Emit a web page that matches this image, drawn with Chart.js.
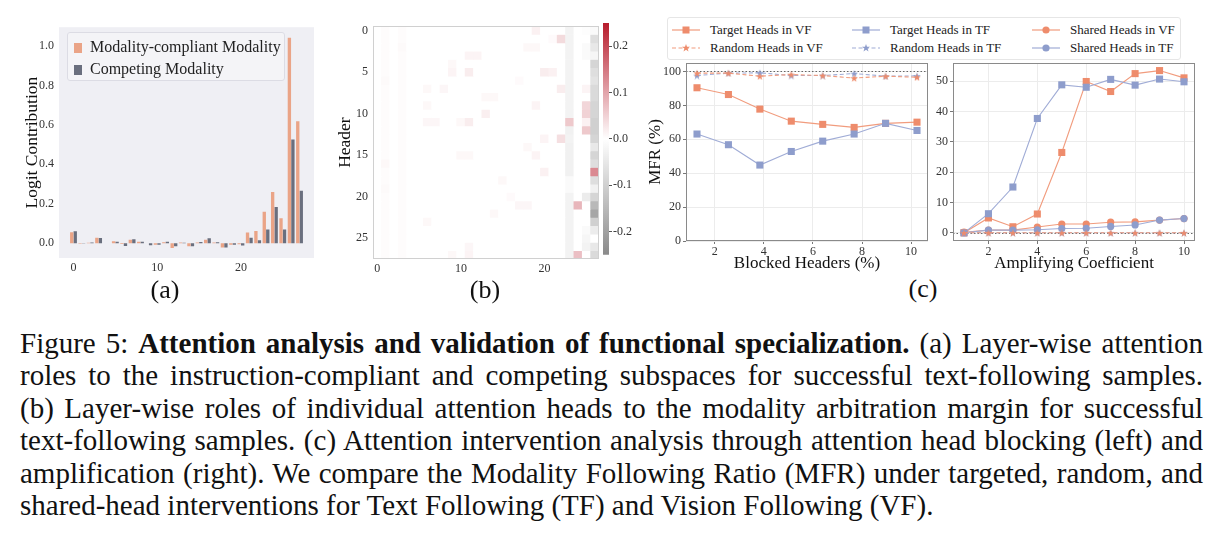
<!DOCTYPE html>
<html>
<head>
<meta charset="utf-8">
<script src="https://cdn.jsdelivr.net/npm/chart.js@4.4.0/dist/chart.umd.min.js"></script>
<style>
  body { margin: 0; width: 1225px; height: 536px; background: #fff; position: relative; overflow: hidden;
         font-family: 'Liberation Serif', 'Times New Roman', serif; color: #111; }
  canvas { position: absolute; }
  .lbl { position: absolute; transform: translate(-50%, -50%); white-space: nowrap; }
  .leg-a { position: absolute; left: 67px; top: 32px; width: 218px; height: 49px; box-sizing: border-box;
           border: 1px solid #dcdce4; border-radius: 3px; background: rgba(255,255,255,0.3); }
  .leg-a .it { position: absolute; left: 6px; font-size: 16px; line-height: 18px; color: #222; }
  .leg-a .sw { display: inline-block; width: 8px; height: 10px; margin-right: 8px; vertical-align: -1px; }
  .leg-c { position: absolute; left: 667px; top: 17px; width: 514px; height: 43px; box-sizing: border-box;
           border: 1px solid #e6e6e6; border-radius: 3px; background: #fff; }
  .leg-c .it { position: absolute; font-size: 13px; line-height: 16px; color: #222; white-space: nowrap; }
  .leg-c svg { position: absolute; }
  .cap { position: absolute; left: 20px; width: 1183px; font-size: 29px; line-height: 32px;
         text-align: justify; text-align-last: justify; }
  .cap.last { text-align-last: left; }
</style>
</head>
<body>

<canvas id="barChart" width="302" height="261" style="left:22px;top:15px"></canvas>
<div class="leg-a">
  <div class="it" style="top:5px"><span class="sw" style="background:#eaa487"></span>Modality-compliant Modality</div>
  <div class="it" style="top:27px"><span class="sw" style="background:#6a6f7e"></span>Competing Modality</div>
</div>
<div class="lbl" style="left:165px;top:290px;font-size:26px">(a)</div>

<canvas id="heatChart" width="264" height="263" style="left:335px;top:14px"></canvas>
<canvas id="cbarChart" width="40" height="250" style="left:603px;top:13px"></canvas>
<div class="lbl" style="left:485px;top:290px;font-size:26px">(b)</div>

<canvas id="blockChart" width="288" height="221" style="left:645px;top:53px"></canvas>
<canvas id="ampChart" width="272" height="221" style="left:928px;top:53px"></canvas>
<div class="leg-c" id="legC"></div>
<div class="lbl" style="left:923px;top:289px;font-size:26px">(c)</div>

<div class="cap" style="top:327px">Figure 5: <b>Attention analysis and validation of functional specialization.</b> (a) Layer-wise attention</div>
<div class="cap" style="top:359px">roles to the instruction-compliant and competing subspaces for successful text-following samples.</div>
<div class="cap" style="top:392px">(b) Layer-wise roles of individual attention heads to the modality arbitration margin for successful</div>
<div class="cap" style="top:424px">text-following samples. (c) Attention intervention analysis through attention head blocking (left) and</div>
<div class="cap" style="top:457px">amplification (right). We compare the Modality Following Ratio (MFR) under targeted, random, and</div>
<div class="cap last" style="top:489px">shared-head interventions for Text Following (TF) and Vision Following (VF).</div>

<script>
'use strict';

// ── Data: (a) layer-wise logit contribution ────────────────
const LAYERS     = [0,1,2,3,4,5,6,7,8,9,10,11,12,13,14,15,16,17,18,19,20,21,22,23,24,25,26,27];
const COMPLIANT  = [0.055,-0.003,0.002,0.028,0,0.010,-0.004,0.018,0.008,0.000,-0.008,0.005,-0.024,0.004,-0.016,0.003,0.018,0.003,-0.022,-0.008,-0.005,0.054,0.062,0.159,0.260,0.126,1.042,0.618];
const COMPETING  = [0.060,-0.002,0.003,0.027,0,0.007,-0.014,0.020,0.007,-0.010,-0.008,0.007,-0.016,0.002,-0.015,0.006,0.025,0.005,-0.022,-0.008,-0.012,0.028,0.015,0.070,0.184,0.069,0.526,0.266];
const BAR_XTICKS = [0,10,20];
const BAR_YTICKS = [0,0.2,0.4,0.6,0.8,1.0];

// ── Data: (b) per-head roles (rows = heads, cols = layers) ──
const HEAT_LAYERS = ['0','1','2','3','4','5','6','7','8','9','10','11','12','13','14','15','16','17','18','19','20','21','22','23','24','25','26'];
const HEAD_ROLES = [
  [0,.003,0,.003,0,0,0,0,0,0,0,0,0,0,0,0,0,0,0,.015,0,0,0,-.025,0,-.005,-.01],
  [0,.003,0,.003,0,0,0,0,0,0,0,0,0,0,0,0,0,0,0,0,0,.005,.04,-.025,0,0,-.07],
  [0,.003,0,.006,0,0,0,0,0,0,0,0,0,0,0,0,0,0,.008,.008,0,0,0,-.025,0,-.01,-.05],
  [0,.003,0,.003,0,0,0,0,0,0,0,.012,.012,0,0,0,0,0,0,0,0,0,0,-.025,0,-.01,-.02],
  [0,.003,0,.003,0,0,0,0,0,.008,0,0,0,0,0,0,0,0,0,0,0,0,0,-.025,0,0,-.09],
  [0,.003,0,.003,0,0,0,0,0,.012,0,.02,0,0,0,0,0,0,0,0,.02,.015,0,-.025,0,0,-.07],
  [0,.006,0,.003,0,0,0,0,0,0,0,0,0,0,0,0,0,.005,0,0,0,0,0,-.025,0,0,-.06],
  [0,.003,0,.003,0,0,.008,0,.01,0,0,0,0,0,0,0,0,0,0,0,0,0,.02,-.025,0,.012,-.08],
  [0,.003,0,.003,0,0,0,0,0,0,0,0,0,.008,.008,0,0,0,0,0,0,0,0,-.025,0,0,-.08],
  [0,.003,0,.003,0,0,.008,0,0,0,0,0,0,0,0,0,0,0,0,.012,0,0,0,-.025,0,.045,-.09],
  [0,.003,0,.003,0,0,0,0,0,0,0,0,0,.018,0,0,0,0,0,0,0,0,0,-.025,0,.05,-.09],
  [0,.003,0,.003,0,0,.01,.01,0,0,.008,.02,0,0,0,0,0,0,0,0,0,0,0,.06,0,.015,-.1],
  [0,.003,0,.003,0,0,0,0,0,0,0,0,0,0,0,0,0,0,0,0,0,0,0,-.03,0,.06,-.1],
  [0,.003,0,.003,0,0,0,0,0,0,0,0,0,0,0,0,0,0,0,0,.012,0,.035,-.025,0,0,-.09],
  [0,.003,0,.003,0,0,0,0,0,0,0,0,0,0,0,0,0,0,.008,0,0,0,0,-.03,0,0,-.05],
  [0,.003,0,.003,0,0,0,0,0,0,.008,.008,0,0,0,0,0,0,0,.012,0,0,0,-.03,0,0,-.09],
  [0,.008,0,.003,0,0,0,0,0,0,0,0,0,0,0,0,0,0,0,0,0,0,0,-.03,0,0,-.07],
  [0,.003,0,.003,0,0,0,0,0,0,0,0,0,0,0,0,0,0,0,0,.015,0,0,-.03,0,0,.13],
  [0,.003,0,.003,0,0,0,0,0,0,0,0,0,0,0,.008,0,0,0,0,0,0,0,-.01,0,0,-.07],
  [0,.006,0,.003,0,0,0,0,0,0,0,0,0,0,0,0,0,0,0,0,0,0,0,-.01,0,0,-.03],
  [0,.003,0,.003,0,0,0,0,0,0,0,0,0,0,0,0,.005,0,0,0,0,0,0,-.025,0,-.04,-.09],
  [0,.003,0,.003,0,0,0,0,0,0,0,0,0,0,0,0,0,.01,.01,0,0,0,0,-.025,.08,0,-.15],
  [0,.003,0,.003,0,0,0,0,0,0,0,0,0,0,.008,0,0,0,0,0,0,0,0,-.025,0,0,-.19],
  [0,.003,0,.003,0,0,.008,0,0,0,0,0,0,0,0,0,0,0,0,0,0,0,0,-.025,0,0,-.1],
  [0,.003,0,.003,0,0,0,0,0,0,0,0,0,0,0,0,0,0,0,0,0,0,0,-.025,0,-.01,-.04],
  [0,.003,0,.003,0,0,0,0,0,0,0,0,0,0,0,0,0,0,0,0,0,0,0,-.025,0,-.02,0],
  [0,.003,0,.003,0,0,0,0,0,0,0,.01,0,0,0,0,0,0,0,0,0,0,0,-.025,0,-.025,-.05],
  [0,.003,0,.003,0,0,0,0,0,.008,0,.012,0,0,0,0,0,0,0,0,0,0,0,-.025,.07,0,-.08]
];
const HEAT_XTICKS = [0,10,20];
const HEAT_YTICKS = [0,5,10,15,20,25];
const CBAR_RANGE  = [-0.25, 0.25];
const CBAR_TICKS  = [-0.2,-0.1,0,0.1,0.2];

// ── Data: (c) head blocking / amplification (MFR %) ───────
const BLOCKED       = [1.28,2.56,3.84,5.12,6.40,7.68,8.96,10.24];
const BLK_TARGET_VF = [90.4,86.4,77.8,70.7,68.8,67.0,69.4,70.1];
const BLK_TARGET_TF = [63.1,56.8,44.8,52.8,58.9,63.1,69.4,65.2];
const BLK_RANDOM_VF = [99.0,99.0,97.2,98.2,97.6,96.1,97.2,96.6];
const BLK_RANDOM_TF = [97.6,99.0,99.2,97.6,97.6,98.8,97.2,97.4];
const BLK_XTICKS    = [2,4,6,8,10];
const BLK_YTICKS    = [0,20,40,60,80,100];

const AMP_COEF      = [1,2,3,4,5,6,7,8,9,10];
const AMP_TARGET_VF = [0.0,4.9,2.0,6.2,26.5,49.9,46.6,52.5,53.5,51.1];
const AMP_TARGET_TF = [0.0,6.3,15.1,37.7,48.8,48.0,50.6,48.7,50.7,49.8];
const AMP_RANDOM_VF = [0,0,0,0,0,0,0,0,0,0];
const AMP_RANDOM_TF = [0,0,0,0,0,0,0,0,0,0];
const AMP_SHARED_VF = [0.2,0.9,0.9,1.9,2.9,2.9,3.5,3.6,4.2,4.7];
const AMP_SHARED_TF = [0.0,0.9,0.9,1.0,1.4,1.5,2.1,2.6,4.2,4.7];
const AMP_XTICKS    = [2,4,6,8,10];
const AMP_YTICKS    = [0,10,20,30,40,50];

// ── Styling ───────────────────────────────────────────────
const SERIF = "'Liberation Serif', 'Times New Roman', serif";
const BAR_ORANGE = '#eaa487', BAR_GRAY = '#6a6f7e';
const ORANGE = '#ee8c6c', BLUE = '#8e9dcc';
const ORANGE_LINE = '#f19c7e', BLUE_LINE = '#a0acd6';
const TICK_FONT = { family: SERIF, size: 12 };
const TICK_COLOR = '#333';

Chart.defaults.font.family = SERIF;
Chart.defaults.animation = false;
Chart.defaults.plugins.legend.display = false;
Chart.defaults.plugins.tooltip.enabled = false;

const fixTicks = list => axis => { axis.ticks = list.map(v => ({ value: v })); };
const fixWidth = w => axis => { axis.width = w; };
const fixHeight = h => axis => { axis.height = h; };

const plotBg = color => ({
    id: 'plotBg',
    beforeDraw(chart) {
        const { ctx, chartArea: a } = chart;
        ctx.save(); ctx.fillStyle = color;
        ctx.fillRect(a.left, a.top, a.right - a.left, a.bottom - a.top);
        ctx.restore();
    }
});

const frame = color => ({
    id: 'frame',
    afterDraw(chart) {
        const { ctx, chartArea: a } = chart;
        ctx.save(); ctx.strokeStyle = color; ctx.lineWidth = 1;
        ctx.strokeRect(Math.round(a.left) + 0.5, Math.round(a.top) + 0.5,
                       Math.round(a.right - a.left) - 1, Math.round(a.bottom - a.top) - 1);
        ctx.restore();
    }
});

const refLine = value => ({
    id: 'refLine',
    beforeDatasetsDraw(chart) {
        const { ctx, chartArea: a, scales } = chart;
        const y = Math.round(scales.y.getPixelForValue(value)) + 0.5;
        ctx.save(); ctx.strokeStyle = '#666'; ctx.lineWidth = 1; ctx.setLineDash([1.5, 2]);
        ctx.beginPath(); ctx.moveTo(a.left, y); ctx.lineTo(a.right, y); ctx.stroke();
        ctx.restore();
    }
});

function mix(c, t) {
    return 'rgb(' + c.map(v => Math.round(255 + (v - 255) * t)).join(',') + ')';
}
const RED_END = [183, 28, 44], GRAY_END = [138, 138, 138];
function cellColor(v) {
    const t = Math.max(-1, Math.min(1, v / CBAR_RANGE[1]));
    return t >= 0 ? mix(RED_END, t) : mix(GRAY_END, -t);
}

function starImage(color, size) {
    const c = document.createElement('canvas');
    c.width = c.height = size;
    const g = c.getContext('2d');
    g.fillStyle = color; g.beginPath();
    for (let i = 0; i < 10; i++) {
        const r = i % 2 ? size * 0.2 : size * 0.5;
        const ang = -Math.PI / 2 + i * Math.PI / 5;
        const px = size / 2 + r * Math.cos(ang), py = size / 2 + 0.5 + r * Math.sin(ang);
        i ? g.lineTo(px, py) : g.moveTo(px, py);
    }
    g.closePath(); g.fill();
    return c;
}

function series(xs, ys, color, lineColor, marker, dashed) {
    const m = {
        square: { pointStyle: 'rect', pointRadius: 5 },
        circle: { pointStyle: 'circle', pointRadius: 3.6 },
        star:   { pointStyle: starImage(color, 8), pointRadius: 4 },
    }[marker];
    return {
        data: xs.map((x, i) => ({ x, y: ys[i] })),
        borderColor: lineColor, backgroundColor: color,
        pointBackgroundColor: color, pointBorderWidth: 0,
        borderWidth: 1.1, borderDash: dashed ? [4, 2.5] : [],
        tension: 0, clip: false,
        ...m,
    };
}

const NO_TICK_GRID = { display: false, drawTicks: false };

// ── (a) bar chart ─────────────────────────────────────────
new Chart(document.getElementById('barChart'), {
    type: 'bar',
    data: {
        datasets: [
            { data: LAYERS.map((l, i) => ({ x: l, y: COMPLIANT[i] })), backgroundColor: BAR_ORANGE },
            { data: LAYERS.map((l, i) => ({ x: l, y: COMPETING[i] })), backgroundColor: BAR_GRAY },
        ]
    },
    options: {
        responsive: false,
        categoryPercentage: 0.84, barPercentage: 0.95,
        layout: { padding: { top: 10, right: 10, left: 0, bottom: 0 } },
        scales: {
            x: {
                type: 'linear', min: -1.73, max: 28.73, offset: false,
                afterBuildTicks: fixTicks(BAR_XTICKS), afterFit: fixHeight(18),
                grid: NO_TICK_GRID, border: { display: false },
                ticks: { font: TICK_FONT, color: TICK_COLOR, padding: 3, maxRotation: 0 }
            },
            y: {
                min: -0.075, max: 1.095,
                afterBuildTicks: fixTicks(BAR_YTICKS), afterFit: fixWidth(37),
                grid: NO_TICK_GRID, border: { display: false },
                ticks: { font: TICK_FONT, color: TICK_COLOR, padding: 5, callback: v => v.toFixed(1) },
                title: { display: true, text: 'Logit Contribution', color: '#111', padding: 0,
                         font: { family: SERIF, size: 17.5, lineHeight: 1.2 } }
            }
        }
    },
    plugins: [plotBg('#efeff4')]
});

// ── (b) heatmap + colour bar ──────────────────────────────
new Chart(document.getElementById('heatChart'), {
    type: 'bar',
    data: {
        labels: HEAT_LAYERS,
        datasets: HEAD_ROLES.map((row, r) => ({
            data: row.map(() => [r, r + 1]),
            backgroundColor: row.map(cellColor),
            grouped: false, categoryPercentage: 1, barPercentage: 1, borderWidth: 0,
        }))
    },
    options: {
        responsive: false,
        layout: { padding: { top: 10, right: 0, left: 0, bottom: 0 } },
        scales: {
            x: {
                afterFit: fixHeight(18),
                grid: NO_TICK_GRID, border: { display: false },
                ticks: { font: TICK_FONT, color: TICK_COLOR, padding: 3, autoSkip: false, maxRotation: 0,
                         callback: (v, i) => HEAT_XTICKS.includes(i) ? HEAT_LAYERS[i] : '' }
            },
            y: {
                min: 0, max: HEAD_ROLES.length, reverse: true,
                afterBuildTicks: fixTicks(HEAT_YTICKS.map(v => v + 0.5)), afterFit: fixWidth(38),
                grid: NO_TICK_GRID, border: { display: false },
                ticks: { font: TICK_FONT, color: TICK_COLOR, padding: 5, callback: v => String(v - 0.5) },
                title: { display: true, text: 'Header', color: '#111', padding: 0,
                         font: { family: SERIF, size: 17.5, lineHeight: 1.2 } }
            }
        }
    },
    plugins: [frame('#d0d0d0')]
});

new Chart(document.getElementById('cbarChart'), {
    type: 'bar',
    data: {
        labels: ['cb'],
        datasets: [{
            data: [CBAR_RANGE],
            categoryPercentage: 1, barPercentage: 1, borderWidth: 0,
            backgroundColor: ctx => {
                const a = ctx.chart.chartArea;
                if (!a) return '#fff';
                const g = ctx.chart.ctx.createLinearGradient(0, a.bottom, 0, a.top);
                g.addColorStop(0, cellColor(CBAR_RANGE[0]));
                g.addColorStop(0.5, '#ffffff');
                g.addColorStop(1, cellColor(CBAR_RANGE[1]));
                return g;
            }
        }]
    },
    options: {
        responsive: false,
        layout: { padding: { top: 10, right: 0, left: 0, bottom: 5 } },
        scales: {
            x: { display: false },
            y: {
                position: 'right', min: CBAR_RANGE[0], max: CBAR_RANGE[1],
                afterBuildTicks: fixTicks(CBAR_TICKS), afterFit: fixWidth(34),
                grid: { drawOnChartArea: false, drawTicks: true, tickLength: 3, color: '#555' },
                border: { display: false },
                ticks: { font: TICK_FONT, color: TICK_COLOR, padding: 1, callback: v => v.toFixed(1) }
            }
        }
    }
});

// ── (c) blocking / amplification lines ────────────────────
const lineAxes = (xMin, xMax, xTicks, yMin, yMax, yTicks, yWidth, xTitle, yTitle) => ({
    x: {
        type: 'linear', min: xMin, max: xMax,
        afterBuildTicks: fixTicks(xTicks), afterFit: fixHeight(33),
        grid: { color: '#ececec', tickColor: '#777', tickLength: 3 }, border: { display: false },
        ticks: { font: TICK_FONT, color: TICK_COLOR, padding: 1, maxRotation: 0 },
        title: { display: true, text: xTitle, color: '#111', padding: 0,
                 font: { family: SERIF, size: 17, lineHeight: 1.2 } }
    },
    y: {
        min: yMin, max: yMax,
        afterBuildTicks: fixTicks(yTicks), afterFit: fixWidth(yWidth),
        grid: { color: '#ececec', tickColor: '#777', tickLength: 3 }, border: { display: false },
        ticks: { font: TICK_FONT, color: TICK_COLOR, padding: 2 },
        title: { display: !!yTitle, text: yTitle, color: '#111', padding: 0,
                 font: { family: SERIF, size: 17, lineHeight: 1.2 } }
    }
});

new Chart(document.getElementById('blockChart'), {
    type: 'line',
    data: {
        datasets: [
            series(BLOCKED, BLK_RANDOM_VF, ORANGE, ORANGE_LINE, 'star', true),
            series(BLOCKED, BLK_RANDOM_TF, BLUE, BLUE_LINE, 'star', true),
            series(BLOCKED, BLK_TARGET_TF, BLUE, BLUE_LINE, 'square', false),
            series(BLOCKED, BLK_TARGET_VF, ORANGE, ORANGE_LINE, 'square', false),
        ]
    },
    options: {
        responsive: false,
        layout: { padding: { top: 10, right: 0, left: 0, bottom: 0 } },
        scales: lineAxes(0.832, 10.688, BLK_XTICKS, 0, 105, BLK_YTICKS, 41, 'Blocked Headers (%)', 'MFR (%)')
    },
    plugins: [refLine(100), frame('#8a8a8a')]
});

new Chart(document.getElementById('ampChart'), {
    type: 'line',
    data: {
        datasets: [
            series(AMP_COEF, AMP_RANDOM_VF, ORANGE, ORANGE_LINE, 'star', true),
            series(AMP_COEF, AMP_RANDOM_TF, BLUE, BLUE_LINE, 'star', true),
            series(AMP_COEF, AMP_SHARED_TF, BLUE, BLUE_LINE, 'circle', false),
            series(AMP_COEF, AMP_SHARED_VF, ORANGE, ORANGE_LINE, 'circle', false),
            series(AMP_COEF, AMP_TARGET_TF, BLUE, BLUE_LINE, 'square', false),
            series(AMP_COEF, AMP_TARGET_VF, ORANGE, ORANGE_LINE, 'square', false),
        ]
    },
    options: {
        responsive: false,
        layout: { padding: { top: 10, right: 0, left: 0, bottom: 0 } },
        scales: lineAxes(0.55, 10.45, AMP_XTICKS, -2.7, 56, AMP_YTICKS, 25, 'Amplifying Coefficient', '')
    },
    plugins: [refLine(0), frame('#8a8a8a')]
});

// ── (c) shared legend ─────────────────────────────────────
const LEGEND_C = [
    { text: 'Target Heads in VF', color: ORANGE, line: ORANGE_LINE, marker: 'square', dashed: false, col: 0, row: 0 },
    { text: 'Random Heads in VF', color: ORANGE, line: ORANGE_LINE, marker: 'star',   dashed: true,  col: 0, row: 1 },
    { text: 'Target Heads in TF', color: BLUE,   line: BLUE_LINE,   marker: 'square', dashed: false, col: 1, row: 0 },
    { text: 'Random Heads in TF', color: BLUE,   line: BLUE_LINE,   marker: 'star',   dashed: true,  col: 1, row: 1 },
    { text: 'Shared Heads in VF', color: ORANGE, line: ORANGE_LINE, marker: 'circle', dashed: false, col: 2, row: 0 },
    { text: 'Shared Heads in TF', color: BLUE,   line: BLUE_LINE,   marker: 'circle', dashed: false, col: 2, row: 1 },
];
const legC = document.getElementById('legC');
LEGEND_C.forEach(it => {
    const x0 = 4 + it.col * 180, y0 = 12 + it.row * 18;
    let mk;
    if (it.marker === 'square') mk = `<rect x="10.5" y="1.5" width="7" height="7" fill="${it.color}"/>`;
    else if (it.marker === 'circle') mk = `<circle cx="14" cy="5" r="3.6" fill="${it.color}"/>`;
    else mk = `<polygon points="14,1 15,3.8 18,3.8 15.6,5.6 16.5,8.6 14,6.8 11.5,8.6 12.4,5.6 10,3.8 13,3.8" fill="${it.color}"/>`;
    legC.insertAdjacentHTML('beforeend',
        `<svg width="28" height="10" style="left:${x0}px;top:${y0 - 5}px">
           <line x1="0" y1="5" x2="28" y2="5" stroke="${it.line}" stroke-width="1.2" ${it.dashed ? 'stroke-dasharray="4 2.5"' : ''}/>${mk}
         </svg>
         <div class="it" style="left:${x0 + 38}px;top:${y0 - 8}px">${it.text}</div>`);
});
</script>
</body>
</html>
